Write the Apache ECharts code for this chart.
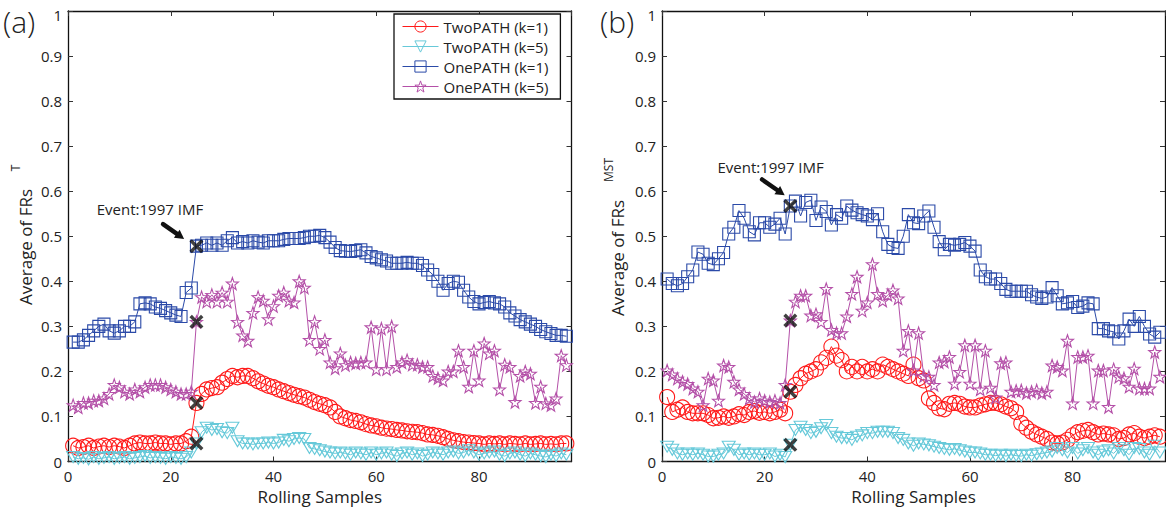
<!DOCTYPE html>
<html><head><meta charset="utf-8">
<script src="https://cdn.jsdelivr.net/npm/echarts@6/dist/echarts.min.js"></script>
<style>html,body{margin:0;padding:0;background:#fff}#c{width:1166px;height:513px}</style>
</head><body><div id="c"></div>
<script>
// ---------- data (x = 1..97) ----------
const seriesNames = ['TwoPATH (k=1)', 'TwoPATH (k=5)', 'OnePATH (k=1)', 'OnePATH (k=5)'];
const yTickLabels = ['0','0.1','0.2','0.3','0.4','0.5','0.6','0.7','0.8','0.9','1'];
const xTickLabels = ['0','20','40','60','80'];
const eventSample = 25;

const twoPathK1_A = [0.035,0.03,0.032,0.035,0.03,0.033,0.035,0.032,0.035,0.033,0.03,0.035,
0.04,0.042,0.04,0.04,0.042,0.04,0.04,0.038,0.04,0.04,0.045,0.055,
0.13,0.15,0.16,0.163,0.165,0.175,0.183,0.19,0.187,0.19,0.19,0.185,0.178,0.173,0.168,0.165,0.16,0.156,0.152,0.148,0.145,0.142,0.137,0.132,0.128,
0.125,0.12,0.11,0.10,0.096,0.092,0.09,0.087,0.083,0.08,0.078,0.075,0.073,0.072,0.07,0.069,0.067,0.066,0.065,0.063,0.06,0.059,0.057,0.054,0.05,0.047,0.045,0.043,0.042,0.041,
0.04,0.038,0.04,0.039,0.04,0.038,0.04,0.039,0.038,0.04,0.038,0.039,0.04,0.038,0.039,0.038,0.04,0.04];
const twoPathK5_A = [0.01,0.006,0.008,0.005,0.01,0.006,0.008,0.01,0.006,0.008,0.01,0.006,0.008,0.01,0.012,0.008,0.01,0.008,0.006,0.01,0.008,0.006,0.01,0.02,
0.04,0.065,0.075,0.07,0.072,0.065,0.063,0.075,0.045,0.04,0.04,0.038,0.04,0.04,0.042,0.04,0.042,0.048,0.045,0.05,0.052,0.05,0.03,0.028,0.025,0.022,0.02,0.018,
0.02,0.018,0.015,0.02,0.018,0.015,0.02,0.015,0.018,0.02,0.015,0.012,0.018,0.02,0.015,0.018,0.012,0.015,0.02,0.018,
0.015,0.02,0.022,0.018,0.02,0.025,0.02,0.015,0.018,0.02,0.022,0.015,0.012,0.018,0.02,0.015,0.012,0.018,0.015,0.012,
0.01,0.015,0.012,0.018,0.015];
const onePathK1_A = [0.265,0.265,0.27,0.28,0.29,0.30,0.305,0.29,0.285,0.29,0.30,0.30,0.31,0.35,0.352,0.35,0.343,0.34,0.335,0.33,0.325,0.322,0.375,0.385,0.478,
0.48,0.485,0.48,0.485,0.48,0.49,0.497,0.485,0.488,0.485,0.49,0.487,0.485,0.49,0.49,0.49,0.493,0.495,0.495,0.495,0.497,0.50,0.50,0.502,0.497,
0.487,0.475,0.468,0.467,0.466,0.468,0.47,0.463,0.455,0.452,0.448,0.445,0.44,0.44,0.44,0.442,0.44,0.44,
0.435,0.425,0.415,0.40,0.38,0.395,0.40,0.398,0.38,0.365,0.355,0.35,0.353,0.355,0.352,0.35,0.343,0.33,0.323,0.315,0.31,0.305,0.30,0.293,0.288,0.284,0.28,0.28,0.278];
const onePathK5_A = [0.125,0.12,0.13,0.13,0.135,0.135,0.14,0.15,0.17,0.165,0.155,0.15,0.16,0.155,0.165,0.17,0.17,0.17,0.165,0.16,0.155,0.15,0.15,0.155,0.31,
0.365,0.355,0.37,0.355,0.375,0.355,0.395,0.31,0.28,0.268,0.33,0.365,0.357,0.316,0.345,0.368,0.375,0.357,0.353,0.40,0.386,0.27,0.31,0.25,0.27,
0.22,0.207,0.24,0.214,0.22,0.218,0.22,0.22,0.298,0.205,0.295,0.205,0.30,0.21,0.22,0.225,0.215,0.215,0.21,0.21,0.19,0.185,0.18,0.20,0.20,
0.246,0.21,0.166,0.246,0.18,0.262,0.24,0.246,0.16,0.215,0.21,0.132,0.19,0.20,0.195,0.13,0.166,0.129,0.125,0.14,0.235,0.214];

const twoPathK1_B = [0.143,0.11,0.115,0.12,0.11,0.107,0.107,0.107,0.103,0.096,0.097,0.1,0.097,0.1,0.105,0.103,0.11,0.112,0.108,0.11,0.107,0.11,0.115,0.107,0.155,
0.17,0.185,0.195,0.2,0.205,0.22,0.23,0.255,0.235,0.225,0.2,0.21,0.2,0.21,0.2,0.205,0.2,0.215,0.21,0.205,0.2,0.195,0.19,0.215,0.185,
0.18,0.14,0.13,0.118,0.116,0.128,0.13,0.128,0.122,0.12,0.12,0.124,0.127,0.13,0.13,0.127,0.122,0.118,0.11,0.085,0.075,0.066,0.06,0.055,0.05,
0.042,0.04,0.042,0.048,0.058,0.065,0.068,0.07,0.065,0.06,0.062,0.06,0.058,0.05,0.052,0.06,0.063,0.055,0.052,0.055,0.058,0.055];
const twoPathK5_B = [0.033,0.026,0.018,0.015,0.018,0.015,0.018,0.015,0.011,0.011,0.015,0.018,0.033,0.026,0.015,0.018,0.015,0.018,0.015,0.015,0.018,0.011,0.015,0.01,0.037,
0.07,0.077,0.07,0.063,0.066,0.074,0.081,0.063,0.055,0.052,0.052,0.048,0.055,0.058,0.063,0.063,0.066,0.066,0.066,0.063,0.052,0.048,0.04,0.035,0.04,
0.038,0.036,0.033,0.03,0.028,0.026,0.028,0.025,0.022,0.02,0.02,0.018,0.015,0.015,0.013,0.015,0.012,0.015,0.013,0.012,0.015,0.013,0.016,0.018,0.02,
0.022,0.03,0.025,0.02,0.03,0.018,0.025,0.03,0.02,0.015,0.022,0.025,0.018,0.03,0.025,0.015,0.03,0.028,0.02,0.015,0.035,0.02];
const onePathK1_B = [0.405,0.395,0.39,0.395,0.41,0.425,0.465,0.46,0.44,0.437,0.45,0.464,0.505,0.52,0.557,0.54,0.51,0.503,0.53,0.53,0.52,0.527,0.54,0.505,0.567,
0.578,0.545,0.575,0.58,0.535,0.565,0.555,0.525,0.548,0.54,0.567,0.558,0.552,0.548,0.545,0.537,0.55,0.51,0.482,0.475,0.473,0.50,0.548,0.53,0.528,
0.545,0.556,0.52,0.488,0.47,0.482,0.48,0.482,0.486,0.478,0.467,0.425,0.41,0.405,0.405,0.395,0.382,0.378,0.378,0.378,0.378,0.37,0.365,0.362,0.365,
0.386,0.368,0.35,0.352,0.355,0.342,0.345,0.352,0.35,0.295,0.295,0.29,0.288,0.272,0.29,0.316,0.30,0.322,0.30,0.283,0.276,0.287];
const onePathK5_B = [0.202,0.193,0.184,0.177,0.172,0.162,0.155,0.125,0.184,0.18,0.135,0.213,0.21,0.177,0.16,0.15,0.14,0.132,0.14,0.135,0.132,0.135,0.13,0.17,0.313,
0.355,0.368,0.368,0.324,0.327,0.31,0.383,0.292,0.285,0.285,0.322,0.372,0.41,0.335,0.353,0.438,0.372,0.357,0.37,0.38,0.362,0.246,0.29,0.202,0.285,
0.19,0.188,0.17,0.22,0.222,0.232,0.173,0.199,0.258,0.173,0.258,0.16,0.246,0.164,0.142,0.218,0.22,0.155,0.157,0.158,0.152,0.155,0.158,0.152,0.155,
0.213,0.21,0.202,0.268,0.129,0.232,0.232,0.235,0.129,0.202,0.202,0.121,0.205,0.188,0.185,0.166,0.206,0.162,0.162,0.162,0.243,0.188];

const panelA = [twoPathK1_A, twoPathK5_A, onePathK1_A, onePathK5_A];
const panelB = [twoPathK1_B, twoPathK5_B, onePathK1_B, onePathK5_B];

// ---------- styling ----------
const FONT = 'Open Sans';
const colors = ['#ff1a1a', '#66c9d9', '#2b4aa8', '#b450a8'];
const STAR = 'path://M0,-10 L2.35,-3.24 L9.51,-3.09 L3.8,1.24 L5.88,8.09 L0,4 L-5.88,8.09 L-3.8,1.24 L-9.51,-3.09 L-2.35,-3.24 Z';
const CROSS = 'path://M-10,-6.5 L-6.5,-10 L0,-3.5 L6.5,-10 L10,-6.5 L3.5,0 L10,6.5 L6.5,10 L0,3.5 L-6.5,10 L-10,6.5 L-3.5,0 Z';
const symbols = [
  {symbol:'circle', size:15, rotate:0},
  {symbol:'triangle', size:[13,11], rotate:180},
  {symbol:'rect', size:12, rotate:0},
  {symbol:STAR, size:12, rotate:0}
];
const grids = [
  {left:68, top:8, width:503.5, height:453.5},
  {left:662, top:8, width:503, height:453.5}
];

function axesFor(i){
  const base = {gridIndex:i, type:'value', splitLine:{show:false},
    axisLine:{show:true, onZero:false, lineStyle:{color:'#111', width:1.3}},
    axisTick:{show:true, inside:true, length:5, lineStyle:{color:'#333', width:1}}};
  const xb = Object.assign({}, base, {position:'bottom', min:0, max:98, interval:20,
    axisLabel:{show:true, fontSize:15, color:'#222', fontFamily:FONT, margin:7, showMaxLabel:false,
      formatter:(v)=>{const k=xTickLabels.indexOf(String(v)); return k>=0?xTickLabels[k]:'';}},
    name:'Rolling Samples', nameLocation:'middle', nameGap:25,
    nameTextStyle:{fontSize:17, color:'#222', fontFamily:FONT}});
  const xt = Object.assign({}, base, {position:'top', min:0, max:98, interval:20, axisLabel:{show:false}});
  const yl = Object.assign({}, base, {position:'left', min:0, max:1, interval:0.1,
    axisLabel:{show:true, fontSize:15, lineHeight:15, color:'#222', fontFamily:FONT, margin:6,
      formatter:(v)=>{const k=Math.round(v*10); return k===10 ? '{top|'+yTickLabels[k]+'}' : yTickLabels[k];},
      rich:{top:{fontSize:15, lineHeight:15, color:'#222', fontFamily:FONT, padding:[7,0,0,0]}}}});
  const yr = Object.assign({}, base, {position:'right', min:0, max:1, interval:0.1, axisLabel:{show:false}});
  return {x:[xb, xt], y:[yl, yr]};
}

const xAxes = [], yAxes = [], series = [];
[panelA, panelB].forEach((panel, gi) => {
  const ax = axesFor(gi);
  xAxes.push(...ax.x); yAxes.push(...ax.y);
  panel.forEach((vals, si) => {
    series.push({
      type:'line', name:seriesNames[si], xAxisIndex:2*gi, yAxisIndex:2*gi,
      data: vals.map((v, k) => [k+1, v]),
      symbol:symbols[si].symbol, symbolSize:symbols[si].size, symbolRotate:symbols[si].rotate,
      showAllSymbol:true,
      lineStyle:{color:colors[si], width:1},
      itemStyle:{color:'rgba(255,255,255,0)', borderColor:colors[si], borderWidth:1.1},
      emphasis:{disabled:true}, z:2+si
    });
  });
  series.push({
    type:'scatter', name:'event', xAxisIndex:2*gi, yAxisIndex:2*gi,
    data: panel.map(vals => [eventSample, vals[eventSample-1]]),
    symbol:CROSS, symbolSize:14, itemStyle:{color:'#111'}, z:20, emphasis:{disabled:true}
  });
});

const chart = echarts.init(document.getElementById('c'), null, {renderer:'svg'});
chart.setOption({
  animation:false,
  backgroundColor:'#fff',
  textStyle:{fontFamily:FONT},
  grid:grids,
  xAxis:xAxes, yAxis:yAxes,
  legend:{
    data: seriesNames.map((n, si) => ({name:n,
      itemStyle:{color:'rgba(255,255,255,0)', borderColor:colors[si], borderWidth:1},
      lineStyle:{color:colors[si], width:1}})),
    orient:'vertical', left:394, top:14, itemWidth:36, itemHeight:14, itemGap:5,
    backgroundColor:'#fff', borderColor:'#111', borderWidth:1.3, borderRadius:0,
    padding:[5,12,5,8], selectedMode:false,
    textStyle:{fontSize:15, color:'#222', fontFamily:FONT}
  },
  series:series
});

// ---------- annotations ----------
const px = (gi, x, y) => chart.convertToPixel({gridIndex:gi}, [x, y]);
function arrow(gi, from, to){
  const a = px(gi, from[0], from[1]), b = px(gi, to[0], to[1]);
  const dx = b[0]-a[0], dy = b[1]-a[1], L = Math.hypot(dx, dy), ux = dx/L, uy = dy/L;
  const hl = 9, hw = 5;
  const base = [b[0]-ux*hl, b[1]-uy*hl];
  return [
    {type:'line', shape:{x1:a[0], y1:a[1], x2:base[0]+ux*2, y2:base[1]+uy*2}, style:{stroke:'#111', lineWidth:4.5, lineCap:'round'}, z:30},
    {type:'polygon', shape:{points:[[b[0],b[1]],[base[0]-uy*hw, base[1]+ux*hw],[base[0]+uy*hw, base[1]-ux*hw]]}, style:{fill:'#111'}, z:30}
  ];
}
function txt(x, y, text, size, opts){
  return Object.assign({type:'text', x:x, y:y, z:30,
    style:Object.assign({text:text, fontSize:size, fontFamily:FONT, fill:'#222', align:'left', verticalAlign:'middle'}, opts||{})});
}
const ta = px(0, 5.6, 0.56), tb = px(1, 10.8, 0.653);
const graphics = [
  txt(ta[0], ta[1], 'Event:1997 IMF', 15),
  ...arrow(0, [18.5, 0.527], [22.6, 0.494]),
  txt(tb[0], tb[1], 'Event:1997 IMF', 15),
  ...arrow(1, [19.5, 0.626], [23.9, 0.591]),
  txt(3, 21, '(a)', 30, {fontWeight:300}),
  txt(600, 21, '(b)', 30, {fontWeight:300}),
  Object.assign(txt(25, 247, 'Average of FRs', 17, {align:'center'}), {rotation:Math.PI/2}),
  Object.assign(txt(15, 168, 'T', 12, {align:'center'}), {rotation:Math.PI/2}),
  Object.assign(txt(617, 258, 'Average of FRs', 17, {align:'center'}), {rotation:Math.PI/2}),
  Object.assign(txt(608, 170, 'MST', 12, {align:'center'}), {rotation:Math.PI/2})
];
chart.setOption({graphic:graphics});
</script>
</body></html>
